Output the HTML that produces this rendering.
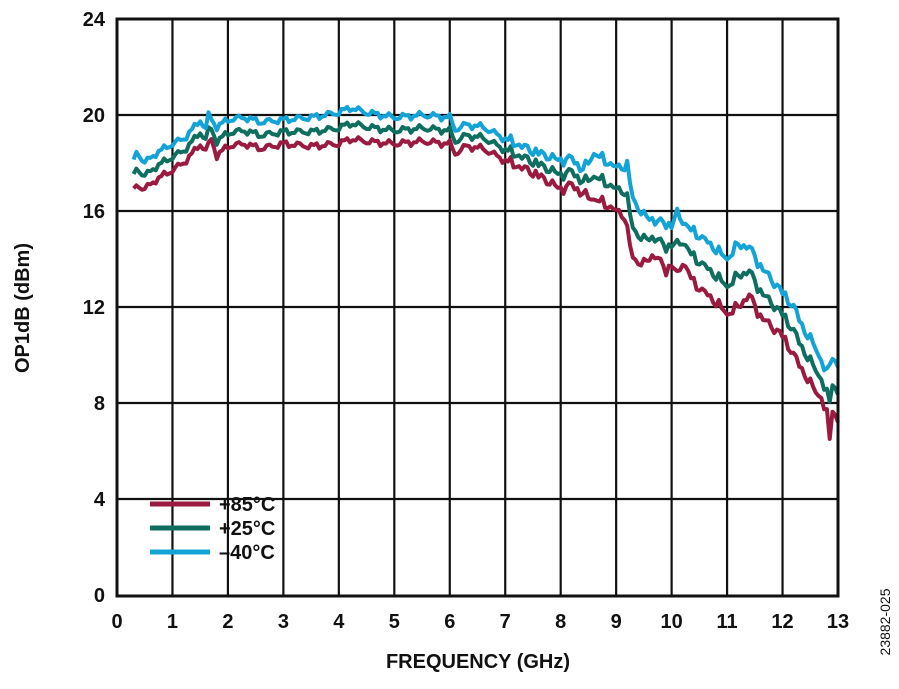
<!DOCTYPE html>
<html><head><meta charset="utf-8"><style>
html,body{margin:0;padding:0;background:#fff;}
svg{display:block;font-family:"Liberation Sans",Arial,sans-serif;font-weight:bold;}
</style></head><body>
<svg id="s" width="899" height="689" viewBox="0 0 899 689" xmlns="http://www.w3.org/2000/svg">
<g id="grid" stroke="#111" stroke-width="2.2" fill="none"></g>
<g id="lines" fill="none" stroke-width="4" stroke-linejoin="round"></g>
<rect x="117" y="19" width="721" height="577" fill="none" stroke="#111" stroke-width="3"/>
<g id="labels" font-size="20" fill="#111"></g>
<text x="478" y="668" font-size="20" text-anchor="middle" fill="#111">FREQUENCY (GHz)</text>
<text transform="translate(29,308) rotate(-90)" font-size="20" text-anchor="middle" fill="#111">OP1dB (dBm)</text>
<text transform="translate(890,622) rotate(-90)" font-size="14" font-weight="normal" text-anchor="middle" fill="#111">23882-025</text>
<g stroke-width="5">
<line x1="150" y1="504" x2="210" y2="504" stroke="#9a1b3f"/>
<line x1="150" y1="528" x2="210" y2="528" stroke="#0e6e5f"/>
<line x1="150" y1="552" x2="210" y2="552" stroke="#13a3d6"/>
</g>
<g font-size="20" fill="#111">
<text x="219" y="511">+85°C</text>
<text x="219" y="535">+25°C</text>
<text x="219" y="559">–40°C</text>
</g>
</svg>
<script>
const X=v=>117+v*(721/13), Y=v=>595-v*24;
const g=document.getElementById('grid'),L=document.getElementById('labels');
let h='';
for(let i=1;i<13;i++)h+=`<line x1="${X(i)}" y1="19" x2="${X(i)}" y2="596"/>`;
for(let v=4;v<24;v+=4)h+=`<line x1="117" y1="${Y(v)}" x2="838" y2="${Y(v)}"/>`;
g.innerHTML=h;
h='';
for(let i=0;i<=13;i++)h+=`<text x="${X(i)}" y="628" text-anchor="middle">${i}</text>`;
for(let v=0;v<=24;v+=4)h+=`<text x="105" y="${Y(v)+7}" text-anchor="end">${v}</text>`;
L.innerHTML=h;
const r85=[[0.3,16.8],[0.35,17.1],[0.5,16.9],[0.7,17.3],[1.0,17.7],[1.2,18.0],[1.4,18.5],[1.5,18.8],[1.6,18.5],[1.7,19.0],[1.8,18.3],[2.0,18.7],[2.3,18.8],[2.6,18.6],[3,18.8],[3.5,18.7],[4,18.8],[4.2,19.0],[4.5,18.9],[5,18.8],[5.5,18.9],[6,18.8],[6.1,18.4],[6.3,18.7],[6.6,18.6],[7,18.1],[7.2,17.9],[7.5,17.6],[7.8,17.2],[8,16.9],[8.2,17.1],[8.4,16.7],[8.6,16.5],[8.8,16.3],[9.0,16.0],[9.15,15.8],[9.3,14.0],[9.5,13.8],[9.7,14.2],[9.9,13.5],[10.0,13.8],[10.1,13.3],[10.2,13.9],[10.4,13.0],[10.6,12.6],[10.8,12.2],[11.0,11.7],[11.2,12.0],[11.4,12.5],[11.6,11.6],[11.8,11.2],[12.0,10.8],[12.2,10.0],[12.4,9.2],[12.5,8.8],[12.7,8.2],[12.8,7.5],[12.85,6.5],[12.9,7.8],[13,7.2]];
const r40=[[0.3,18.0],[0.35,18.5],[0.5,18.0],[0.7,18.4],[1.0,18.8],[1.2,19.0],[1.4,19.5],[1.5,19.8],[1.6,19.4],[1.65,20.0],[1.8,19.5],[2,19.8],[2.3,19.9],[2.6,19.7],[3,19.8],[3.5,19.9],[4,20.1],[4.2,20.3],[4.5,20.1],[5,19.9],[5.5,20.0],[6,19.9],[6.1,19.4],[6.3,19.6],[6.6,19.5],[7,19.0],[7.2,18.8],[7.5,18.5],[8,18.1],[8.2,18.2],[8.4,17.7],[8.6,18.4],[9.0,17.8],[9.2,17.9],[9.3,16.5],[9.5,15.8],[9.7,15.6],[10,15.4],[10.1,15.9],[10.3,15.3],[10.6,14.8],[11,14.0],[11.2,14.6],[11.4,14.5],[11.6,13.7],[12,12.6],[12.2,12.0],[12.4,11.0],[12.6,10.3],[12.8,9.2],[12.9,10.0],[13,9.5]];
function interp(a,x){for(let i=1;i<a.length;i++){if(x<=a[i][0]){const t=(x-a[i-1][0])/(a[i][0]-a[i-1][0]);return a[i-1][1]+t*(a[i][1]-a[i-1][1]);}}return a[a.length-1][1];}
function noise(x,s){return 0.1*Math.sin(x*23.1+s)+0.06*Math.sin(x*57.3+s*2)+(x>7?0.12*Math.sin(x*41.7+s):0);}
const Lg=document.getElementById('lines');
let out='';
[['#9a1b3f',0],['#0e6e5f',0.5],['#13a3d6',1]].forEach(([c,w],k)=>{
 let p=[];
 for(let x=0.3;x<=13.001;x+=0.05){
  let v=interp(r85,x)*(1-w)+interp(r40,x)*w+noise(x,1.3);
  p.push(X(x).toFixed(1)+','+Y(v).toFixed(1));
 }
 out+=`<polyline stroke="${c}" points="${p.join(' ')}"/>`;
});
Lg.innerHTML=out;
</script>
</body></html>
